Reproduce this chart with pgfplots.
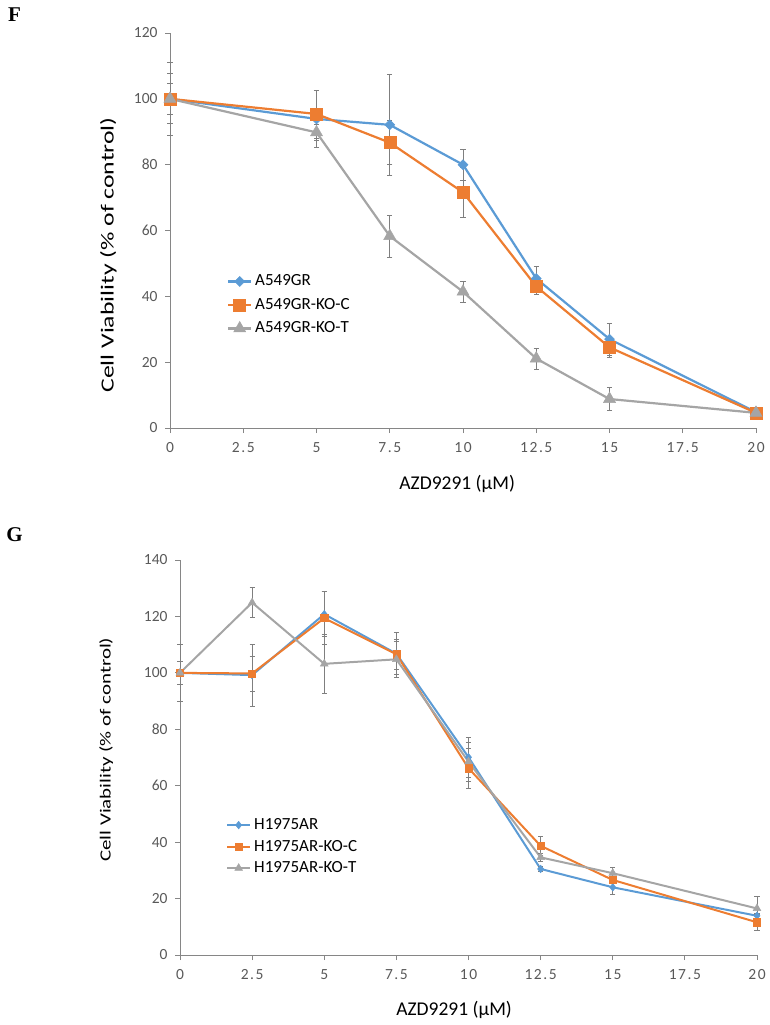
\documentclass[border=0pt]{standalone}
\usepackage{fontspec}
\setmainfont{Carlito}
\newfontfamily\timesfont{Liberation Serif}
\usepackage{graphicx}
\usepackage{pgfplots}
\pgfplotsset{compat=1.18}

\definecolor{cblue}{HTML}{5B9BD5}
\definecolor{corange}{HTML}{ED7D31}
\definecolor{cgray}{HTML}{A5A5A5}
\definecolor{tickgray}{HTML}{595959}
\definecolor{axisgray}{HTML}{868686}
\definecolor{errgray}{HTML}{7F7F7F}

\newcommand\legfont{\fontsize{17}{17}\selectfont}

\pgfplotsset{
  viab/.style={
    scale only axis,
    anchor=south west,
    xmin=0, xmax=20,
    axis x line*=bottom, axis y line*=left,
    axis line style={-, draw=axisgray, line width=1pt},
    tick align=outside,
    major tick length=5pt,
    tick style={draw=axisgray, line width=1pt},
    xtick={0,2.5,5,7.5,10,12.5,15,17.5,20},
    xticklabels={0,2.5,5,7.5,10,12.5,15,17.5,20},
    ticklabel style={font=\fontsize{15.5}{15.5}\selectfont, text=tickgray},
    xticklabel style={font=\fontsize{15.5}{15.5}\selectfont\addfontfeatures{LetterSpace=10}, yshift=-6pt},
    yticklabel style={xshift=-4pt},
    xlabel={AZD9291 (μM)},
    xlabel style={font=\fontsize{19.5}{19.5}\selectfont},
    clip=false,
    legend cell align=left,
    legend style={draw=none, fill=none, inner sep=0pt, outer sep=0pt,
      font=\legfont,
      nodes={inner sep=0pt, text height=12pt, text depth=3pt, font=\legfont}},
    legend image code/.code={
      \draw[mark repeat=2,mark phase=2] plot coordinates {(0pt,0pt) (11.5pt,0pt) (23pt,0pt)};
      \node at (26pt,0pt) {};
    },
  },
  errs/.style={
    /pgfplots/error bars/y dir=both,
    /pgfplots/error bars/y explicit,
    /pgfplots/error bars/error bar style={draw=errgray, line width=0.8pt, solid},
    /pgfplots/error bars/error mark options={rotate=90, mark size=2.6pt, draw=errgray, line width=0.8pt},
  },
}

\begin{document}
\begin{tikzpicture}
\path[use as bounding box] (0pt,0pt) rectangle (770pt,-1025pt);

\node[font=\timesfont\bfseries\fontsize{21}{21}\selectfont] at (14.5pt,-15pt) {F};
\node[font=\timesfont\bfseries\fontsize{21}{21}\selectfont] at (14.5pt,-534.5pt) {G};

% panel F
\begin{axis}[viab,
  at={(170pt,-428pt)}, width=586pt, height=395pt,
  ymin=0, ymax=120,
  ytick={0,20,40,60,80,100,120},
  yticklabels={0,20,40,60,80,100,120},
  xlabel style={at={(axis description cs:0.49,-0.142)}, anchor=center},
  ylabel={\scalebox{1.39}[1]{Cell Viability (\% of control)}},
  ylabel style={at={(axis description cs:-0.105,0.438)}, anchor=center, rotate=0,
    font=\fontsize{18.5}{18.5}\selectfont},
  legend style={at={(axis cs:1.95,46.8)}, anchor=north west, row sep=8.5pt},
]
\addplot+[errs, color=cblue, line width=2.2pt, mark=diamond*, mark size=5pt,
  mark options={solid, fill=cblue, draw=cblue, line width=0.5pt, xscale=1.33}]
  coordinates {
    (0,100)    +- (0,4.8)
    (5,93.9)   +- (0,8.7)
    (7.5,92.1) +- (0,15.4)
    (10,80.0)  +- (0,4.7)
    (12.5,45.4) +- (0,3.7)
    (15,27.0)  +- (0,4.9)
    (20,4.8)   +- (0,0.5)
  };
\addlegendentry{A549GR}
\addplot+[errs, color=corange, line width=2.2pt, mark=square*, mark size=6pt,
  mark options={solid, fill=corange, draw=corange, line width=0.5pt}]
  coordinates {
    (0,100)    +- (0,7.6)
    (5,95.4)   +- (0,7.3)
    (7.5,86.7) +- (0,6.7)
    (10,71.6)  +- (0,7.5)
    (12.5,43.0) +- (0,2.5)
    (15,24.5)  +- (0,3.0)
    (20,4.6)   +- (0,0.5)
  };
\addlegendentry{A549GR-KO-C}
\addplot+[errs, color=cgray, line width=2.2pt, mark=triangle*, mark size=7pt,
  mark options={solid, fill=cgray, draw=cgray, line width=0.5pt}]
  coordinates {
    (0,100)    +- (0,11.2)
    (5,89.8)   +- (0,2.5)
    (7.5,58.3) +- (0,6.4)
    (10,41.4)  +- (0,3.1)
    (12.5,21.1) +- (0,3.2)
    (15,8.8)   +- (0,3.4)
    (20,4.6)   +- (0,0.5)
  };
\addlegendentry{A549GR-KO-T}
\end{axis}

% panel G
\begin{axis}[viab,
  at={(180pt,-955pt)}, width=577pt, height=395pt,
  ymin=0, ymax=140,
  ytick={0,20,40,60,80,100,120,140},
  yticklabels={0,20,40,60,80,100,120,140},
  xlabel style={at={(axis description cs:0.475,-0.139)}, anchor=center},
  ylabel={\scalebox{1.35}[1]{Cell Viability (\% of control)}},
  ylabel style={at={(axis description cs:-0.128,0.52)}, anchor=center, rotate=0,
    font=\fontsize{15.5}{15.5}\selectfont},
  legend style={at={(axis cs:1.6,48.7)}, anchor=north west, row sep=6.5pt},
]
\addplot+[errs, color=cblue, line width=2pt, mark=diamond*, mark size=3.8pt,
  mark options={solid, fill=cblue, draw=cblue, line width=0.5pt, xscale=1.07}]
  coordinates {
    (0,100)    +- (0,4.0)
    (2.5,99.2) +- (0,11.0)
    (5,120.8)  +- (0,8.0)
    (7.5,106.8) +- (0,7.5)
    (10,70.1)  +- (0,7.0)
    (12.5,30.5) +- (0,1.0)
    (15,24.0)  +- (0,2.4)
    (20,13.9)  +- (0,1.0)
  };
\addlegendentry{H1975AR}
\addplot+[errs, color=corange, line width=2pt, mark=square*, mark size=3.6pt,
  mark options={solid, fill=corange, draw=corange, line width=0.5pt}]
  coordinates {
    (0,100)    +- (0,1.2)
    (2.5,99.8) +- (0,6.2)
    (5,119.4)  +- (0,9.3)
    (7.5,106.6) +- (0,5.3)
    (10,66.2)  +- (0,7.0)
    (12.5,38.7) +- (0,3.5)
    (15,26.6)  +- (0,1.0)
    (20,11.6)  +- (0,2.7)
  };
\addlegendentry{H1975AR-KO-C}
\addplot+[errs, color=cgray, line width=2pt, mark=triangle*, mark size=4.5pt,
  mark options={solid, fill=cgray, draw=cgray, line width=0.5pt}]
  coordinates {
    (0,100)    +- (0,10.0)
    (2.5,124.9) +- (0,5.4)
    (5,103.2)  +- (0,10.4)
    (7.5,104.8) +- (0,6.3)
    (10,68.5)  +- (0,7.0)
    (12.5,34.6) +- (0,1.5)
    (15,29.0)  +- (0,2.0)
    (20,16.5)  +- (0,4.4)
  };
\addlegendentry{H1975AR-KO-T}
\end{axis}
\end{tikzpicture}
\end{document}
